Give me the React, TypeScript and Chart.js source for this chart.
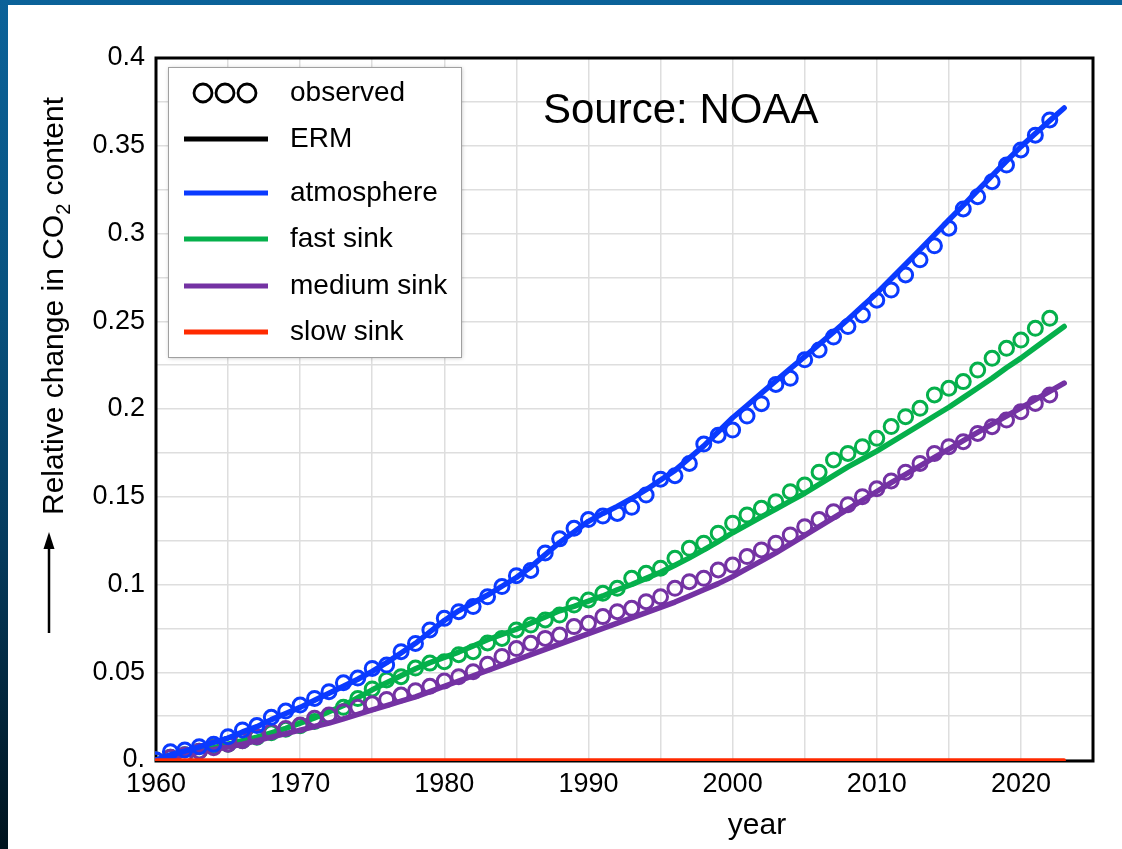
import React, { useEffect, useRef } from 'react';
import { Chart, registerables } from 'chart.js';

Chart.register(...registerables);

const FONT = '"Liberation Sans", Arial, Helvetica, sans-serif';

// Years of the fitted model curves
const modelYears = [
  1960, 1961, 1962, 1963, 1964, 1965, 1966, 1967, 1968, 1969,
  1970, 1971, 1972, 1973, 1974, 1975, 1976, 1977, 1978, 1979,
  1980, 1981, 1982, 1983, 1984, 1985, 1986, 1987, 1988, 1989,
  1990, 1991, 1992, 1993, 1994, 1995, 1996, 1997, 1998, 1999,
  2000, 2001, 2002, 2003, 2004, 2005, 2006, 2007, 2008, 2009,
  2010, 2011, 2012, 2013, 2014, 2015, 2016, 2017, 2018, 2019,
  2020, 2021, 2022, 2023,
];

// Years of the observed values
const observedYears = [
  1960, 1961, 1962, 1963, 1964, 1965, 1966, 1967, 1968, 1969,
  1970, 1971, 1972, 1973, 1974, 1975, 1976, 1977, 1978, 1979,
  1980, 1981, 1982, 1983, 1984, 1985, 1986, 1987, 1988, 1989,
  1990, 1991, 1992, 1993, 1994, 1995, 1996, 1997, 1998, 1999,
  2000, 2001, 2002, 2003, 2004, 2005, 2006, 2007, 2008, 2009,
  2010, 2011, 2012, 2013, 2014, 2015, 2016, 2017, 2018, 2019,
  2020, 2021, 2022,
];

// Observed relative change (circles)
const atmosphereObserved = [
  0.0, 0.0047, 0.0057, 0.0076, 0.009, 0.0133, 0.0171, 0.0196, 0.0243, 0.0279,
  0.0313, 0.0351, 0.0389, 0.044, 0.0467, 0.0522, 0.0541, 0.0617, 0.0664, 0.0741,
  0.0807, 0.0845, 0.0874, 0.093, 0.0988, 0.105, 0.108, 0.118, 0.126, 0.132,
  0.137, 0.139, 0.1405, 0.144, 0.151, 0.16, 0.162, 0.169, 0.18, 0.185,
  0.188, 0.196, 0.203, 0.214, 0.2175, 0.228, 0.2336, 0.241, 0.247, 0.2536,
  0.262, 0.2678, 0.2764, 0.285, 0.293, 0.303, 0.314, 0.321, 0.3295, 0.339,
  0.3476, 0.356, 0.3647,
];

const fastSinkObserved = [
  0.0, 0.0015, 0.003, 0.005, 0.0075, 0.009, 0.011, 0.013, 0.0155, 0.0175,
  0.0195, 0.022, 0.025, 0.03, 0.035, 0.0405, 0.0456, 0.0475, 0.0524, 0.0552,
  0.056, 0.06, 0.0617, 0.0667, 0.0693, 0.0741, 0.0769, 0.0798, 0.0826, 0.0883,
  0.0912, 0.095, 0.0978, 0.1035, 0.1064, 0.1092, 0.1149, 0.1206, 0.1235, 0.1292,
  0.1349, 0.1396, 0.1434, 0.1472, 0.1529, 0.1567, 0.164, 0.171, 0.1747, 0.1785,
  0.1833, 0.19, 0.1956, 0.2004, 0.208, 0.2118, 0.2156, 0.2222, 0.2289, 0.2346,
  0.2393, 0.246, 0.2517,
];

const mediumSinkObserved = [
  0.0, 0.0015, 0.003, 0.005, 0.007, 0.009, 0.011, 0.0133, 0.0161, 0.018,
  0.0199, 0.0238, 0.0256, 0.0275, 0.03, 0.032, 0.0345, 0.037, 0.0395, 0.042,
  0.045, 0.0475, 0.0503, 0.0545, 0.059, 0.0635, 0.0665, 0.0693, 0.0712, 0.076,
  0.0779, 0.0817, 0.0845, 0.0864, 0.0902, 0.093, 0.0978, 0.1016, 0.1035, 0.1083,
  0.1111, 0.1159, 0.1197, 0.1235, 0.1282, 0.1329, 0.137, 0.1415, 0.1455, 0.15,
  0.1545, 0.159, 0.164, 0.169, 0.1747, 0.1785, 0.1814, 0.1861, 0.1899, 0.1937,
  0.1985, 0.2032, 0.208,
];

// ERM model curves (lines)
const atmosphereModel = [
  0.0, 0.003, 0.005, 0.0075, 0.01, 0.0125, 0.016, 0.019, 0.023, 0.0265,
  0.03, 0.034, 0.038, 0.042, 0.046, 0.0505, 0.0555, 0.061, 0.0665, 0.073,
  0.0795, 0.085, 0.0895, 0.094, 0.099, 0.104, 0.11, 0.117, 0.124, 0.13,
  0.136, 0.1405, 0.1445, 0.149, 0.154, 0.1595, 0.165, 0.172, 0.179, 0.187,
  0.195, 0.202, 0.209, 0.216, 0.223, 0.2298, 0.2368, 0.2438, 0.251, 0.2585,
  0.266, 0.2742, 0.2825, 0.2908, 0.2992, 0.3077, 0.316, 0.3245, 0.333, 0.3413,
  0.3495, 0.357, 0.3643, 0.3715,
];

const fastSinkModel = [
  0.0, 0.0015, 0.003, 0.005, 0.007, 0.009, 0.011, 0.013, 0.0155, 0.018,
  0.021, 0.024, 0.0275, 0.031, 0.0355, 0.04, 0.044, 0.048, 0.052, 0.0555,
  0.0585, 0.0615, 0.065, 0.0685, 0.0715, 0.0745, 0.078, 0.0815, 0.085, 0.0875,
  0.0905, 0.0935, 0.097, 0.1, 0.1035, 0.107, 0.111, 0.1152, 0.1197, 0.1245,
  0.1295, 0.134, 0.1385, 0.143, 0.1475, 0.152, 0.157, 0.162, 0.167, 0.1715,
  0.176, 0.181, 0.186, 0.191, 0.196, 0.201, 0.2065, 0.212, 0.2175, 0.2235,
  0.229, 0.235, 0.241, 0.247,
];

const mediumSinkModel = [
  0.0, 0.0015, 0.003, 0.0045, 0.006, 0.0075, 0.009, 0.011, 0.013, 0.015,
  0.017, 0.019, 0.021, 0.0235, 0.026, 0.0285, 0.031, 0.0335, 0.036, 0.039,
  0.042, 0.045, 0.048, 0.051, 0.054, 0.057, 0.06, 0.063, 0.066, 0.069,
  0.072, 0.075, 0.078, 0.081, 0.084, 0.087, 0.09, 0.0935, 0.097, 0.1005,
  0.1045, 0.109, 0.1135, 0.118, 0.123, 0.128, 0.133, 0.138, 0.143, 0.148,
  0.153, 0.158, 0.1628, 0.1676, 0.1724, 0.1772, 0.182, 0.1867, 0.1914, 0.196,
  0.2006, 0.2053, 0.21, 0.2147,
];

const slowSinkYears = [1960, 2023];
const slowSinkModel = [0.0, 0.0];

// Axis tick labels
const yTickLabels = ['0.', '0.05', '0.1', '0.15', '0.2', '0.25', '0.3', '0.35', '0.4'];
const xTickLabels = ['1960', '1970', '1980', '1990', '2000', '2010', '2020'];

// Legend
const legendLabels = ['observed', 'ERM', 'atmosphere', 'fast sink', 'medium sink', 'slow sink'];
const legendColors = ['#000000', '#000000', '#0a3aff', '#05b04b', '#7432a3', '#ff2a00'];

const COLORS = {
  atmosphere: '#0a3aff',
  fast: '#05b04b',
  medium: '#7432a3',
  slow: '#ff2a00',
};

const toPoints = (xs: number[], ys: number[]) => xs.map((x, i) => ({ x, y: ys[i] }));

const lineSet = (label: string, xs: number[], ys: number[], color: string, width = 5.5) => ({
  label,
  data: toPoints(xs, ys),
  borderColor: color,
  backgroundColor: color,
  borderWidth: width,
  borderCapStyle: 'round' as const,
  borderJoinStyle: 'round' as const,
  pointRadius: 0,
  tension: 0,
  fill: false,
  clip: 1,
});

const circleSet = (label: string, xs: number[], ys: number[], color: string) => ({
  label,
  data: toPoints(xs, ys),
  showLine: false,
  borderColor: color,
  backgroundColor: 'transparent',
  pointRadius: 7,
  pointBorderWidth: 3,
  pointBorderColor: color,
  pointBackgroundColor: 'rgba(255,255,255,0)',
  pointStyle: 'circle' as const,
  clip: 1,
});

// Box around the plot area, drawn under the curves
const framePlugin = {
  id: 'frame',
  beforeDatasetsDraw(chart: any) {
    const { ctx, chartArea } = chart;
    ctx.save();
    ctx.strokeStyle = '#000';
    ctx.lineWidth = 3;
    ctx.strokeRect(chartArea.left, chartArea.top, chartArea.right - chartArea.left, chartArea.bottom - chartArea.top + 1);
    ctx.restore();
  },
};

// Legend, source note and axis titles
const decorPlugin = {
  id: 'decor',
  afterDraw(chart: any) {
    const { ctx } = chart;
    ctx.save();

    // legend box
    ctx.save();
    ctx.shadowColor = 'rgba(0,0,0,0.25)';
    ctx.shadowBlur = 4;
    ctx.shadowOffsetX = 1;
    ctx.shadowOffsetY = 1;
    ctx.fillStyle = '#fff';
    ctx.fillRect(168, 67, 293, 290);
    ctx.restore();
    ctx.strokeStyle = '#a0a0a0';
    ctx.lineWidth = 1;
    ctx.strokeRect(168.5, 67.5, 293, 290);

    const rows = [93, 139, 193, 239, 286, 332];
    ctx.font = `28px ${FONT}`;
    ctx.textAlign = 'left';
    ctx.textBaseline = 'alphabetic';
    legendLabels.forEach((label, i) => {
      const y = rows[i];
      if (i === 0) {
        ctx.strokeStyle = legendColors[i];
        ctx.lineWidth = 2.8;
        [203, 225, 247].forEach((cx) => {
          ctx.beginPath();
          ctx.arc(cx, y, 9, 0, Math.PI * 2);
          ctx.stroke();
        });
      } else {
        ctx.strokeStyle = legendColors[i];
        ctx.lineWidth = 5;
        ctx.lineCap = 'butt';
        ctx.beginPath();
        ctx.moveTo(184, y);
        ctx.lineTo(268, y);
        ctx.stroke();
      }
      ctx.fillStyle = '#000';
      ctx.fillText(label, 290, y + 8);
    });

    // source note
    ctx.font = `42px ${FONT}`;
    ctx.fillStyle = '#000';
    ctx.fillText('Source: NOAA', 543, 123);

    // x axis title
    ctx.font = `30px ${FONT}`;
    ctx.textAlign = 'center';
    ctx.fillText('year', 757, 834);

    // y axis title with subscript
    ctx.save();
    ctx.translate(63, 515);
    ctx.rotate(-Math.PI / 2);
    ctx.textAlign = 'left';
    ctx.font = `30px ${FONT}`;
    const part1 = 'Relative change in CO';
    ctx.fillText(part1, 0, 0);
    let w = ctx.measureText(part1).width;
    ctx.font = `20px ${FONT}`;
    ctx.fillText('2', w, 7);
    w += ctx.measureText('2').width;
    ctx.font = `30px ${FONT}`;
    ctx.fillText(' content', w, 0);
    ctx.restore();

    // upward arrow
    ctx.strokeStyle = '#000';
    ctx.lineWidth = 2.5;
    ctx.beginPath();
    ctx.moveTo(49, 633);
    ctx.lineTo(49, 545);
    ctx.stroke();
    ctx.fillStyle = '#000';
    ctx.beginPath();
    ctx.moveTo(49, 532);
    ctx.lineTo(43.5, 549);
    ctx.lineTo(54.5, 549);
    ctx.closePath();
    ctx.fill();

    ctx.restore();
  },
};

export default function App() {
  const canvasRef = useRef<HTMLCanvasElement | null>(null);

  useEffect(() => {
    if (!canvasRef.current) return;
    Chart.defaults.font.family = FONT;
    Chart.defaults.color = '#000';

    const chart = new Chart(canvasRef.current, {
      type: 'line',
      data: {
        datasets: [
          lineSet('slow sink', slowSinkYears, slowSinkModel, COLORS.slow, 3.5),
          lineSet('atmosphere', modelYears, atmosphereModel, COLORS.atmosphere),
          circleSet('atmosphere observed', observedYears, atmosphereObserved, COLORS.atmosphere),
          lineSet('medium sink', modelYears, mediumSinkModel, COLORS.medium),
          circleSet('medium sink observed', observedYears, mediumSinkObserved, COLORS.medium),
          lineSet('fast sink', modelYears, fastSinkModel, COLORS.fast),
          circleSet('fast sink observed', observedYears, fastSinkObserved, COLORS.fast),
        ] as any,
      },
      options: {
        animation: false,
        responsive: true,
        maintainAspectRatio: false,
        layout: { padding: { top: 58, right: 29, left: 0, bottom: 0 } },
        plugins: {
          legend: { display: false },
          tooltip: { enabled: false },
          title: { display: false },
        },
        scales: {
          x: {
            type: 'linear',
            min: 1960,
            max: 2025,
            border: { display: false },
            grid: { color: '#dedede', lineWidth: 1.5, drawTicks: false },
            ticks: {
              stepSize: 5,
              autoSkip: false,
              maxRotation: 0,
              padding: 8,
              font: { size: 27, family: FONT },
              color: '#000',
              callback: (v: any) => {
                const s = String(Math.round(Number(v)));
                return xTickLabels.includes(s) ? s : '';
              },
            },
            afterFit: (scale: any) => {
              scale.height = 89;
            },
          },
          y: {
            type: 'linear',
            min: 0,
            max: 0.4,
            border: { display: false },
            grid: { color: '#dedede', lineWidth: 1.5, drawTicks: false },
            ticks: {
              stepSize: 0.025,
              autoSkip: false,
              padding: 11,
              font: { size: 27, family: FONT },
              color: '#000',
              callback: (v: any) => {
                const k = Math.round(Number(v) * 1000);
                return k % 50 === 0 ? yTickLabels[k / 50] : '';
              },
            },
            afterFit: (scale: any) => {
              scale.width = 156;
            },
          },
        },
      } as any,
      plugins: [framePlugin, decorPlugin],
    });

    return () => chart.destroy();
  }, []);

  return (
    <div
      style={{
        position: 'absolute',
        left: 0,
        top: 0,
        width: 1122,
        height: 849,
        overflow: 'hidden',
        background: 'linear-gradient(180deg, #0b6299 0%, #08527f 35%, #053a5c 65%, #00131d 100%)',
      }}
    >
      <div style={{ position: 'absolute', left: 8, top: 5, right: 0, bottom: 0, background: '#fff' }} />
      <div style={{ position: 'absolute', left: 0, top: 0, width: 1122, height: 849 }}>
        <canvas ref={canvasRef} />
      </div>
    </div>
  );
}
